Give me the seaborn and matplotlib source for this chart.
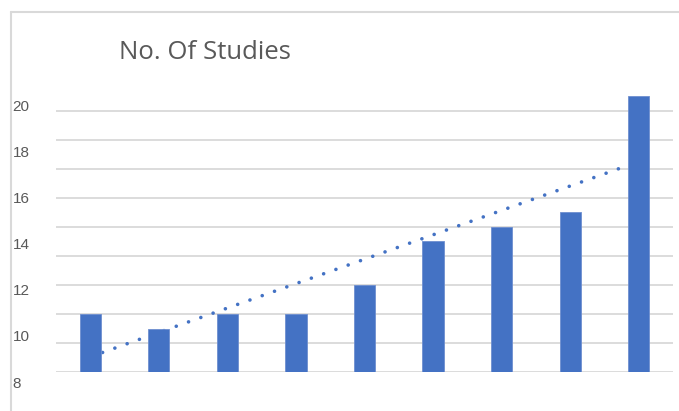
import numpy as np
import pandas as pd
import seaborn as sns
import matplotlib.pyplot as plt
from matplotlib.lines import Line2D

# Datos
periodos = ['1', '2', '3', '4', '5', '6', '7', '8', '9']
num_estudios = [4, 3, 4, 4, 6, 9, 10, 11, 19]
etiquetas_eje = [8, 10, 12, 14, 16, 18, 20]
titulo = "No. Of Studies"

azul = '#4472C4'
gris_texto = '#595959'
gris_linea = '#D9D9D9'

df = pd.DataFrame({'periodo': periodos, 'estudios': num_estudios})

sns.set_theme(style="white")
plt.rcParams['font.family'] = ['Open Sans', 'DejaVu Sans']

W, H = 679, 411
fig = plt.figure(figsize=(W / 100, H / 100), dpi=100)

# Ejes principales (barras + rejilla)
ax = fig.add_axes([56 / W, (H - 372) / H, (673 - 56) / W, (372 - 82) / H])
ax.set_zorder(2)
ax.patch.set_alpha(0)

# Línea de tendencia lineal (punteada, detrás de las barras)
x = np.arange(len(num_estudios))
pendiente, intercepto = np.polyfit(x + 1, num_estudios, 1)
tendencia = pendiente * (x + 1) + intercepto
ax.plot(x, tendencia, color=azul, linewidth=2.6, linestyle=(0, (0.01, 3.6)),
        dash_capstyle='round', zorder=1)

sns.barplot(data=df, x='periodo', y='estudios', color=azul, width=0.31,
            saturation=1, edgecolor='#6E8FD0', linewidth=0.6, ax=ax, zorder=3)

ax.set_xlim(-0.5, len(periodos) - 0.5)
ax.set_ylim(0, 20)
ax.set_yticks(np.arange(0, 19, 2))
ax.yaxis.grid(True, color=gris_linea, linewidth=1.3)
ax.set_axisbelow(True)
ax.tick_params(left=False, bottom=False, labelleft=False, labelbottom=False)
ax.set_xlabel('')
ax.set_ylabel('')
for s in ax.spines.values():
    s.set_visible(False)

# Etiquetas del eje vertical (desplazadas como en la imagen original)
ax_lab = fig.add_axes([11 / W, (H - 400) / H, 0.0001, 310 / H])
ax_lab.set_ylim(8 - 18 / 23.08, 8 + 292 / 23.08)
ax_lab.yaxis.tick_right()
ax_lab.set_yticks(etiquetas_eje)
ax_lab.set_yticklabels([str(v) for v in etiquetas_eje], fontsize=11,
                       color=gris_texto, family=['Liberation Sans', 'DejaVu Sans'])
ax_lab.tick_params(axis='y', length=0, pad=1)
ax_lab.set_xticks([])
ax_lab.patch.set_alpha(0)
for s in ax_lab.spines.values():
    s.set_visible(False)

# Título
fig.text(119 / W, 1 - 52 / H, titulo, fontsize=18.5, color=gris_texto,
         ha='left', va='center')

# Marco gris
fig.add_artist(Line2D([11 / W, 11 / W], [0, 1 - 12 / H], color=gris_linea,
                      linewidth=1.5, transform=fig.transFigure))
fig.add_artist(Line2D([11 / W, 1], [1 - 12 / H, 1 - 12 / H], color=gris_linea,
                      linewidth=1.5, transform=fig.transFigure))

fig.savefig('out.png', dpi=100)
